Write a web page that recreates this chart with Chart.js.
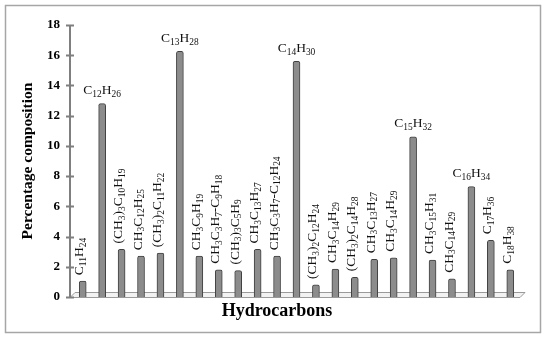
<!DOCTYPE html>
<html>
<head>
<meta charset="utf-8">
<script src="https://cdn.jsdelivr.net/npm/chart.js@4/dist/chart.umd.min.js"></script>
<style>
  html, body { margin: 0; padding: 0; background: #fff; }
  #wrap { width: 550px; height: 339px; }
</style>
</head>
<body>
<div id="wrap"><canvas id="hcChart" width="550" height="339"></canvas></div>
<script>
const compounds = [
    'C11H24', 'C12H26', '(CH3)3C10H19', 'CH3C12H25', '(CH3)2C11H22', 'C13H28',
    'CH3C9H19', 'CH3C3H7-C9H18', '(CH3)3C5H9', 'CH3C13H27', 'CH3C3H7-C12H24', 'C14H30',
    '(CH3)2C12H24', 'CH3C14H29', '(CH3)2C14H28', 'CH3C13H27', 'CH3C14H29', 'C15H32',
    'CH3C15H31', 'CH3C14H29', 'C16H34', 'C17H36', 'C18H38'
];
const percentComposition = [
    1.05, 12.8, 3.15, 2.7, 2.9, 16.25,
    2.7, 1.8, 1.75, 3.15, 2.7, 15.6,
    0.8, 1.85, 1.3, 2.5, 2.6, 10.6,
    2.45, 1.2, 7.3, 3.75, 1.8
];
// labels written flat above the bar instead of turned up
const flatLabels = ['C12H26', 'C13H28', 'C14H30', 'C15H32', 'C16H34'];
const yTicks = [0, 2, 4, 6, 8, 10, 12, 14, 16, 18];

const SERIF = '"Liberation Serif", "DejaVu Serif", serif';

// split a formula into normal text and subscript digits
function splitFormula(txt) {
    const parts = [];
    const re = /(\d+)|([^\d]+)/g;
    let m;
    while ((m = re.exec(txt)) !== null) {
        if (m[1]) parts.push({ t: m[1], sub: true });
        else parts.push({ t: m[2], sub: false });
    }
    return parts;
}

function formulaWidth(ctx, parts, size) {
    let w = 0;
    parts.forEach(p => {
        ctx.font = (p.sub ? size * 0.7 : size) + 'px ' + SERIF;
        w += ctx.measureText(p.t).width;
    });
    return w;
}

function drawFormula(ctx, parts, x, y, size) {
    let cx = x;
    parts.forEach(p => {
        ctx.font = (p.sub ? size * 0.7 : size) + 'px ' + SERIF;
        ctx.fillText(p.t, cx, p.sub ? y + size * 0.28 : y);
        cx += ctx.measureText(p.t).width;
    });
}

const decorPlugin = {
    id: 'decor',
    beforeDraw(chart) {
        const { ctx, chartArea } = chart;
        const y0 = chart.scales.y.getPixelForValue(0);
        const x0 = chartArea.left - 3;
        ctx.save();
        // floor of the 3d plot
        ctx.strokeStyle = '#9a9a9a';
        ctx.lineWidth = 1;
        ctx.beginPath();
        ctx.moveTo(x0, y0 + 0.5);
        ctx.lineTo(chartArea.right, y0 + 0.5);
        ctx.lineTo(chartArea.right + 5, y0 - 4.5);
        ctx.lineTo(x0 + 5, y0 - 4.5);
        ctx.lineTo(x0, y0 + 0.5);
        ctx.fillStyle = '#f2f2f2';
        ctx.fill();
        ctx.stroke();
        ctx.restore();
    },
    afterDraw(chart) {
        const { ctx } = chart;
        const ys = chart.scales.y;
        const axX = chart.chartArea.left - 3;
        ctx.save();
        // outer frame
        ctx.strokeStyle = '#a6a6a6';
        ctx.lineWidth = 1.5;
        ctx.strokeRect(5.5, 5.5, 535, 327);
        // y axis with crossing ticks
        ctx.strokeStyle = '#7f7f7f';
        ctx.lineWidth = 2;
        ctx.beginPath();
        ctx.moveTo(axX, ys.getPixelForValue(18));
        ctx.lineTo(axX, ys.getPixelForValue(0));
        yTicks.forEach(v => {
            const py = Math.round(ys.getPixelForValue(v)) + 0.5;
            ctx.moveTo(axX - 4, py);
            ctx.lineTo(axX + 4, py);
        });
        ctx.stroke();

        // x axis title, centred on the frame rather than the plot
        ctx.fillStyle = '#000';
        ctx.font = 'bold 18px ' + SERIF;
        ctx.textAlign = 'center';
        ctx.textBaseline = 'middle';
        ctx.fillText('Hydrocarbons', 277, 311);

        // compound names over the bars
        const meta = chart.getDatasetMeta(0);
        ctx.fillStyle = '#111';
        ctx.textBaseline = 'middle';
        ctx.textAlign = 'left';
        meta.data.forEach((bar, i) => {
            const name = compounds[i];
            const parts = splitFormula(name);
            const size = 13.5;
            if (flatLabels.includes(name)) {
                const w = formulaWidth(ctx, parts, size);
                drawFormula(ctx, parts, bar.x - w / 2, bar.y - 13, size);
            } else {
                ctx.save();
                ctx.translate(bar.x - 3, bar.y - 6);
                ctx.rotate(-Math.PI / 2);
                drawFormula(ctx, parts, 0, 0, size);
                ctx.restore();
            }
        });
        ctx.restore();
    }
};

const canvas = document.getElementById('hcChart');

const hcChart = new Chart(canvas, {
    type: 'bar',
    data: {
        labels: compounds,
        datasets: [{
            label: 'Percentage composition',
            data: percentComposition,
            backgroundColor: ctx => {
                const el = ctx.element;
                if (!el || el.x === undefined) return '#8c8c8c';
                const g = ctx.chart.ctx.createLinearGradient(el.x - 4, 0, el.x + 4, 0);
                g.addColorStop(0, '#6e6e6e');
                g.addColorStop(0.45, '#b0b0b0');
                g.addColorStop(1, '#777777');
                return g;
            },
            borderColor: '#404040',
            borderWidth: 1,
            borderRadius: { topLeft: 2, topRight: 2 },
            borderSkipped: 'bottom',
            barThickness: 7
        }]
    },
    options: {
        responsive: false,
        animation: false,
        layout: { padding: { left: 11, right: 30, top: 25, bottom: 42 } },
        plugins: {
            legend: { display: false },
            tooltip: { enabled: false }
        },
        scales: {
            x: {
                grid: { display: false, drawTicks: false },
                border: { display: false },
                ticks: { display: false }
            },
            y: {
                min: 0,
                max: 18,
                grid: { display: false, drawTicks: false },
                border: { display: false },
                ticks: {
                    stepSize: 2,
                    color: '#000',
                    padding: 13,
                    font: { family: SERIF, size: 13, weight: 'bold' }
                },
                title: {
                    display: true,
                    text: 'Percentage composition',
                    color: '#000',
                    font: { family: SERIF, size: 15.5, weight: 'bold' },
                    padding: { top: 8, bottom: 0 }
                },
                afterFit: scale => { scale.width = 62; }
            }
        }
    },
    plugins: [decorPlugin]
});
</script>
</body>
</html>
